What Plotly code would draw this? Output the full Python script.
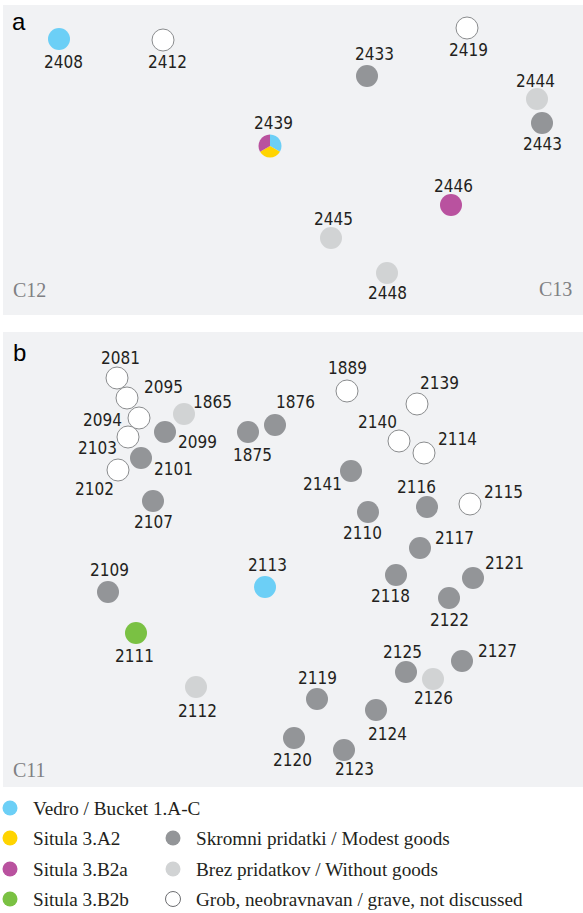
import plotly.graph_objects as go

# ---------------- data ----------------
# panel a (local planar coordinates, y measured downward)
a_ids = ["2408", "2412", "2439", "2433", "2419", "2444", "2443", "2446", "2445", "2448"]
a_x = [56, 160, 267, 364, 464, 534, 539, 448, 328, 384]
a_y = [34, 35, 141, 71, 23, 94, 118, 200, 233, 268]
a_cat = ["bucket", "grave", "multi", "modest", "grave", "none", "modest", "b2a", "none", "none"]

# panel b
b_ids = ["2081", "2095", "2094", "1865", "2099", "2103", "2101", "2102", "2107", "1875",
         "1876", "1889", "2139", "2140", "2114", "2141", "2116", "2115", "2110", "2117",
         "2109", "2113", "2111", "2112", "2118", "2121", "2122", "2125", "2126", "2127",
         "2119", "2124", "2120", "2123"]
b_x = [114, 124, 136, 181, 162, 125, 138, 115, 150, 245,
       272, 344, 414, 396, 421, 348, 424, 467, 365, 417,
       105, 262, 133, 193, 393, 470, 446, 403, 430, 459,
       314, 373, 291, 341]
b_y = [46, 66, 86, 82, 100, 105, 126, 138, 169, 100,
       93, 59, 72, 109, 121, 139, 175, 172, 180, 216,
       260, 255, 301, 355, 243, 246, 266, 340, 347, 329,
       367, 378, 406, 418]
b_cat = ["grave", "grave", "grave", "none", "modest", "grave", "modest", "grave", "modest", "modest",
         "modest", "grave", "grave", "grave", "grave", "modest", "modest", "grave", "modest", "modest",
         "modest", "bucket", "b2b", "none", "modest", "modest", "modest", "modest", "none", "modest",
         "modest", "modest", "modest", "modest"]

# grave 2439 holds three vessel types
multi_parts = ["bucket", "a2", "b2a"]
multi_values = [1, 1, 1]

# legend
leg_keys = ["bucket", "a2", "b2a", "b2b", "modest", "none", "grave"]
leg_text = ["Vedro / Bucket 1.A-C", "Situla 3.A2", "Situla 3.B2a", "Situla 3.B2b",
            "Skromni pridatki / Modest goods", "Brez pridatkov / Without goods",
            "Grob, neobravnavan / grave, not discussed"]

# ---------------- styles ----------------
COL = {"bucket": "#6CCFF6", "a2": "#FFD400", "b2a": "#B9529F", "b2b": "#7AC143",
       "modest": "#939598", "none": "#D1D3D4", "grave": "#FFFFFF"}
BG = "#F1F2F4"
TXT = "#231F20"
W, H = 583, 913
PA = dict(left=3, right=583, top=5, bottom=315)
PB = dict(left=3, right=583, top=332, bottom=787)
LEG_TOP = 790

# label offsets (px) relative to the point centre
a_off = {"2408": (4, 23), "2412": (4, 22), "2439": (3, -23), "2433": (7, -22), "2419": (1, 22),
         "2444": (-2, -18), "2443": (0, 21), "2446": (2, -19), "2445": (2, -19), "2448": (0, 20)}
b_off = {"2081": (3, -20), "2095": (36, -11), "2094": (-37, 2), "1865": (28, -12), "2099": (32, 10),
         "2103": (-31, 11), "2101": (32, 11), "2102": (-24, 19), "2107": (0, 21), "1875": (4, 23),
         "1876": (20, -23), "1889": (0, -23), "2139": (22, -21), "2140": (-22, -19), "2114": (33, -14),
         "2141": (-29, 13), "2116": (-11, -20), "2115": (33, -12), "2110": (-6, 21), "2117": (34, -10),
         "2109": (1, -22), "2113": (2, -22), "2111": (-2, 23), "2112": (1, 24), "2118": (-6, 21),
         "2121": (31, -15), "2122": (0, 22), "2125": (-4, -20), "2126": (0, 19), "2127": (35, -10),
         "2119": (0, -21), "2124": (11, 24), "2120": (-2, 22), "2123": (10, 19)}

MS = 22
fig = go.Figure()


def add_points(ids, xs, ys, cats, xa, ya, offs):
    for key in ["bucket", "b2a", "b2b", "modest", "none", "grave"]:
        idx = [i for i, c in enumerate(cats) if c == key]
        if not idx:
            continue
        fig.add_trace(go.Scatter(
            x=[xs[i] for i in idx], y=[ys[i] for i in idx], text=[ids[i] for i in idx],
            mode="markers", xaxis=xa, yaxis=ya, showlegend=False, hoverinfo="text",
            marker=dict(size=MS, color=COL[key],
                        line=dict(color="#8A8C8E" if key == "grave" else COL[key],
                                  width=1 if key == "grave" else 0))))
    for i, gid in enumerate(ids):
        dx, dy = offs[gid]
        fig.add_annotation(x=xs[i], y=ys[i], xref=xa, yref=ya, text=gid, showarrow=False,
                           xshift=dx, yshift=-dy, xanchor="center", yanchor="middle",
                           font=dict(family="DejaVu Sans Condensed, DejaVu Sans", size=17, color=TXT))


add_points(a_ids, a_x, a_y, a_cat, "x", "y", a_off)
add_points(b_ids, b_x, b_y, b_cat, "x2", "y2", b_off)

# pie for the grave with multiple vessels, centred on its data point
i = a_cat.index("multi")
cx = (PA["left"] + a_x[i]) / W
cy = 1 - (PA["top"] + a_y[i]) / H
r = 11.5
fig.add_trace(go.Pie(values=multi_values, marker=dict(colors=[COL[k] for k in multi_parts],
                                                       line=dict(width=0)),
                     sort=False, direction="clockwise", rotation=0, textinfo="none",
                     hoverinfo="skip", showlegend=False,
                     domain=dict(x=[cx - r / W, cx + r / W], y=[cy - r / H, cy + r / H])))

# legend (manual, two columns)
col_x = [10, 173]
rows = [18, 48, 79, 109]
leg_pos = [(0, 0), (0, 1), (0, 2), (0, 3), (1, 1), (1, 2), (1, 3)]
for k, t, (c, rr) in zip(leg_keys, leg_text, leg_pos):
    fig.add_trace(go.Scatter(
        x=[col_x[c]], y=[rows[rr]], mode="markers", xaxis="x3", yaxis="y3", showlegend=False,
        hoverinfo="skip",
        marker=dict(size=15, color=COL[k],
                    line=dict(color="#6D6E71" if k == "grave" else COL[k],
                              width=1 if k == "grave" else 0))))
    fig.add_annotation(x=col_x[c] + 21, y=rows[rr], xref="x3", yref="y3", text=t, showarrow=False,
                       xanchor="left", yanchor="middle",
                       font=dict(family="Liberation Serif, serif", size=19.2, color=TXT))

# panel letters and sector names
for txt, xx, yy, xa, ya in [("a", 16, 17, "x", "y"), ("b", 16, 20, "x2", "y2")]:
    fig.add_annotation(x=xx, y=yy, xref=xa, yref=ya, text=txt, showarrow=False,
                       xanchor="center", yanchor="middle",
                       font=dict(family="Liberation Sans, Arial", size=24, color="#000000"))
for txt, xx, yy, xa, ya in [("C12", 8, 285, "x", "y"), ("C13", 534, 284, "x", "y"),
                            ("C11", 8, 438, "x2", "y2")]:
    fig.add_annotation(x=xx, y=yy, xref=xa, yref=ya, text=txt, showarrow=False,
                       xanchor="left", yanchor="middle",
                       font=dict(family="Liberation Serif, serif", size=20, color="#7F8083"))

ax_common = dict(showgrid=False, zeroline=False, showticklabels=False, ticks="",
                 showline=False, fixedrange=True)
fig.update_layout(
    width=W, height=H, margin=dict(l=0, r=0, t=0, b=0),
    paper_bgcolor="white", plot_bgcolor=BG, showlegend=False,
    xaxis=dict(domain=[PA["left"] / W, PA["right"] / W], range=[0, PA["right"] - PA["left"]], **ax_common),
    yaxis=dict(domain=[1 - PA["bottom"] / H, 1 - PA["top"] / H], range=[PA["bottom"] - PA["top"], 0], **ax_common),
    xaxis2=dict(domain=[PB["left"] / W, PB["right"] / W], range=[0, PB["right"] - PB["left"]], anchor="y2", **ax_common),
    yaxis2=dict(domain=[1 - PB["bottom"] / H, 1 - PB["top"] / H], range=[PB["bottom"] - PB["top"], 0], anchor="x2", **ax_common),
    xaxis3=dict(domain=[0, 1], range=[0, W], anchor="y3", **ax_common),
    yaxis3=dict(domain=[0, 1 - LEG_TOP / H], range=[H - LEG_TOP, 0], anchor="x3", **ax_common),
)
# legend area should stay white
fig.add_shape(type="rect", xref="x3", yref="y3", x0=0, x1=W, y0=0, y1=H - LEG_TOP,
              fillcolor="white", line=dict(width=0), layer="below")

fig.write_html("out.html", config={"displayModeBar": False},
               post_script="document.body.style.margin='0';document.body.style.overflow='hidden';")
